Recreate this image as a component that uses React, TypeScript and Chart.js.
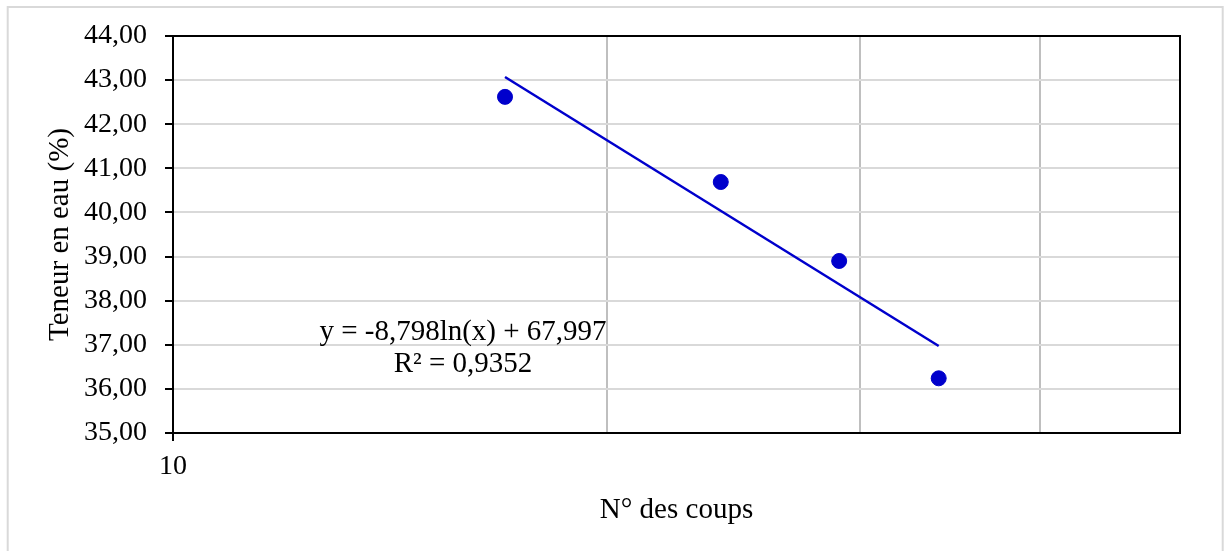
import { useEffect, useRef } from "react";
import { Chart, registerables } from "chart.js";

Chart.register(...registerables);

// ---- data ----
const blowCounts = [17, 24, 29, 34];
const waterContent = [42.62, 40.69, 38.9, 36.24];
const trendSlope = -8.798;
const trendIntercept = 67.997;
const trendStart = 17;
const trendEnd = 34;
const yTickValues = [35, 36, 37, 38, 39, 40, 41, 42, 43, 44];
const xTickValues = [10, 20, 30, 40, 50];
const xLabelledValues = [10];
const xMinorGrid = [20, 30, 40];
const equationLines = ["y = -8,798ln(x) + 67,997", "R² = 0,9352"];
const yTitle = "Teneur en eau (%)";
const xTitle = "N° des coups";

const FONT = '"Liberation Serif", "Times New Roman", serif';
const BLUE = "#0000CC";

const fmt = (v: number) => v.toFixed(2).replace(".", ",");

const decorPlugin = {
  id: "decor",
  beforeDraw(chart: any) {
    const ctx = chart.ctx;
    ctx.save();
    ctx.fillStyle = "#ffffff";
    ctx.fillRect(0, 0, chart.width, chart.height);
    ctx.strokeStyle = "#D9D9D9";
    ctx.lineWidth = 2;
    ctx.strokeRect(7.7, 7, 1215, 600);
    ctx.restore();
  },
  beforeDatasetsDraw(chart: any) {
    const { ctx, chartArea } = chart;
    ctx.save();
    ctx.strokeStyle = "#000000";
    ctx.lineWidth = 2;
    ctx.strokeRect(
      chartArea.left,
      chartArea.top,
      chartArea.right - chartArea.left,
      chartArea.bottom - chartArea.top
    );
    ctx.restore();
  },
  afterDraw(chart: any) {
    const { ctx, chartArea } = chart;
    ctx.save();
    ctx.fillStyle = "#000000";
    ctx.font = `29px ${FONT}`;
    ctx.textAlign = "center";
    ctx.textBaseline = "middle";
    const cx = chartArea.left + 290;
    ctx.fillText(equationLines[0], cx, chartArea.top + 296);
    ctx.fillText(equationLines[1], cx, chartArea.top + 328);
    ctx.restore();
  },
};

export default function App() {
  const ref = useRef<HTMLCanvasElement | null>(null);

  useEffect(() => {
    if (!ref.current) return;
    const points = blowCounts.map((x, i) => ({ x, y: waterContent[i] }));
    const trend = [trendStart, trendEnd].map((x) => ({
      x,
      y: trendSlope * Math.log(x) + trendIntercept,
    }));
    const chart = new Chart(ref.current, {
      type: "scatter",
      data: {
        datasets: [
          {
            label: "Teneur en eau",
            data: points,
            backgroundColor: BLUE,
            borderColor: BLUE,
            pointRadius: 7.5,
            borderWidth: 1,
            showLine: false,
            order: 1,
          },
          {
            label: "Tendance",
            data: trend,
            borderColor: BLUE,
            backgroundColor: BLUE,
            borderWidth: 2.5,
            pointRadius: 0,
            showLine: true,
            order: 2,
          },
        ],
      },
      options: {
        animation: false,
        responsive: false,
        maintainAspectRatio: false,
        layout: { padding: { top: 36, right: 44, left: 0, bottom: 0 } },
        plugins: {
          legend: { display: false },
          tooltip: { enabled: false },
        },
        scales: {
          x: {
            type: "logarithmic",
            min: 10,
            max: 50,
            afterBuildTicks: (scale: any) => {
              scale.ticks = xTickValues.map((v) => ({ value: v }));
            },
            afterFit: (scale: any) => {
              scale.height = 551 - 433;
            },
            border: { display: false },
            grid: {
              color: (c: any) =>
                c.tick && xMinorGrid.includes(c.tick.value) ? "#BFBFBF" : "rgba(0,0,0,0)",
              lineWidth: 2,
              tickColor: (c: any) =>
                c.tick && xLabelledValues.includes(c.tick.value) ? "#000000" : "rgba(0,0,0,0)",
              tickWidth: 2,
              tickLength: 8,
            },
            ticks: {
              autoSkip: false,
              maxRotation: 0,
              minRotation: 0,
              padding: 9,
              color: "#000000",
              font: { family: FONT, size: 28 },
              callback: (v: any) => (xLabelledValues.includes(Number(v)) ? String(v) : ""),
            },
            title: {
              display: true,
              text: xTitle,
              color: "#000000",
              font: { family: FONT, size: 29 },
              padding: { top: 0, bottom: 23 },
            },
          },
          y: {
            type: "linear",
            min: 35,
            max: 44,
            afterBuildTicks: (scale: any) => {
              scale.ticks = yTickValues.map((v) => ({ value: v }));
            },
            afterFit: (scale: any) => {
              scale.width = 173;
            },
            border: { display: false },
            grid: {
              color: "#D9D9D9",
              lineWidth: 2,
              tickColor: "#000000",
              tickWidth: 2,
              tickLength: 8,
            },
            ticks: {
              padding: 18,
              color: "#000000",
              font: { family: FONT, size: 28 },
              callback: (v: any) => fmt(Number(v)),
            },
            title: {
              display: true,
              text: yTitle,
              color: "#000000",
              font: { family: FONT, size: 29 },
              padding: { top: 43, bottom: 0 },
            },
          },
        },
      },
      plugins: [decorPlugin],
    } as any);
    return () => chart.destroy();
  }, []);

  return (
    <div style={{ position: "absolute", left: 0, top: 0, width: 1224, height: 551 }}>
      <canvas ref={ref} width={1224} height={551} style={{ width: 1224, height: 551, display: "block" }} />
    </div>
  );
}
